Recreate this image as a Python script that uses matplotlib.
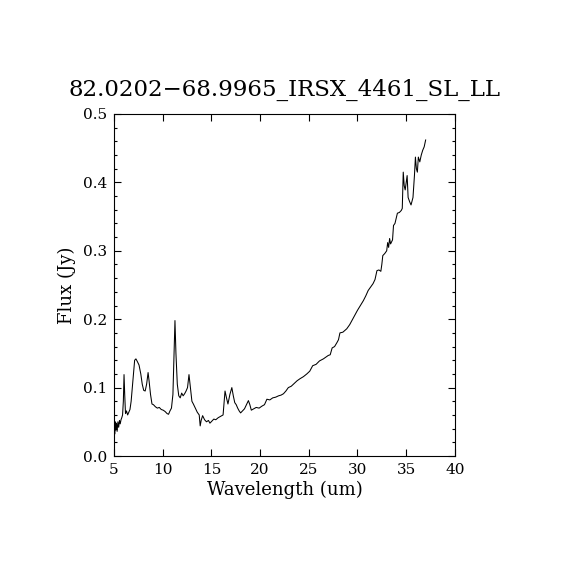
#!/usr/bin/env python3
"""IRS spectrum, flux vs wavelength, IDL-style plot."""

import matplotlib
matplotlib.use('Agg')
import matplotlib.pyplot as plt
from matplotlib.ticker import MultipleLocator

TITLE = '82.0202\u221268.9965_IRSX_4461_SL_LL'

WAVE = [
    5.00, 5.03, 5.07, 5.12, 5.18, 5.25, 5.32, 5.40, 5.48, 5.56,
    5.64, 5.72, 5.80, 5.88, 5.96, 6.03, 6.10, 6.18, 6.28, 6.40,
    6.52, 6.64, 6.76, 6.88, 7.00, 7.12, 7.25, 7.40, 7.57, 7.75,
    7.90, 8.05, 8.20, 8.35, 8.50, 8.60, 8.75, 8.90, 9.05, 9.25,
    9.45, 9.65, 9.85, 10.05, 10.25, 10.45, 10.60, 10.75, 10.90, 11.05,
    11.15, 11.26, 11.36, 11.50, 11.65, 11.80, 11.95, 12.10, 12.25, 12.40,
    12.55, 12.70, 12.85, 13.00, 13.15, 13.35, 13.55, 13.75, 13.85, 13.95,
    14.10, 14.30, 14.50, 14.70, 14.85, 15.05, 15.25, 15.45, 15.70, 15.95,
    16.20, 16.40, 16.55, 16.70, 16.90, 17.10, 17.25, 17.40, 17.55, 17.70,
    17.85, 18.00, 18.20, 18.40, 18.60, 18.80, 18.95, 19.10, 19.35, 19.60,
    19.90, 20.20, 20.45, 20.70, 21.00, 21.30, 21.60, 21.90, 22.15, 22.40,
    22.65, 22.90, 23.20, 23.50, 23.80, 24.10, 24.45, 24.80, 25.10, 25.40,
    25.75, 26.10, 26.50, 27.00, 27.20, 27.40, 27.65, 27.90, 28.05, 28.20,
    28.50, 28.90, 29.20, 29.50, 29.75, 30.00, 30.30, 30.60, 30.85, 31.10,
    31.35, 31.60, 31.80, 32.00, 32.20, 32.40, 32.50, 32.60, 32.80, 33.00,
    33.10, 33.20, 33.30, 33.40, 33.60, 33.70, 33.85, 34.10, 34.30, 34.50,
    34.60, 34.70, 34.80, 34.90, 35.00, 35.10, 35.20, 35.35, 35.50, 35.70,
    35.85, 35.95, 36.05, 36.15, 36.25, 36.40, 36.55, 36.70, 36.85, 37.00,
]

FLUX = [
    0.040, 0.070, 0.032, 0.050, 0.038, 0.048, 0.036, 0.050, 0.042, 0.052,
    0.047, 0.053, 0.056, 0.060, 0.080, 0.119, 0.090, 0.062, 0.066, 0.060,
    0.064, 0.068, 0.080, 0.100, 0.120, 0.140, 0.142, 0.138, 0.133, 0.120,
    0.105, 0.096, 0.095, 0.105, 0.122, 0.110, 0.090, 0.076, 0.075, 0.072,
    0.070, 0.071, 0.068, 0.067, 0.065, 0.062, 0.061, 0.066, 0.070, 0.090,
    0.140, 0.198, 0.150, 0.105, 0.088, 0.085, 0.092, 0.088, 0.091, 0.095,
    0.100, 0.119, 0.100, 0.080, 0.076, 0.070, 0.064, 0.060, 0.044, 0.052,
    0.059, 0.053, 0.050, 0.052, 0.048, 0.051, 0.054, 0.053, 0.056, 0.058,
    0.060, 0.095, 0.085, 0.076, 0.090, 0.100, 0.088, 0.078, 0.075, 0.070,
    0.066, 0.063, 0.066, 0.069, 0.075, 0.081, 0.075, 0.067, 0.069, 0.071,
    0.070, 0.073, 0.075, 0.083, 0.082, 0.085, 0.086, 0.088, 0.089, 0.091,
    0.095, 0.100, 0.102, 0.106, 0.110, 0.113, 0.116, 0.120, 0.124, 0.132,
    0.134, 0.139, 0.142, 0.147, 0.148, 0.158, 0.160, 0.166, 0.170, 0.180,
    0.181, 0.186, 0.192, 0.200, 0.207, 0.213, 0.220, 0.227, 0.234, 0.242,
    0.247, 0.252, 0.258, 0.271, 0.272, 0.270, 0.280, 0.293, 0.296, 0.300,
    0.312, 0.305, 0.318, 0.310, 0.316, 0.337, 0.340, 0.355, 0.356, 0.359,
    0.362, 0.415, 0.395, 0.389, 0.400, 0.410, 0.378, 0.372, 0.367, 0.378,
    0.410, 0.437, 0.420, 0.415, 0.437, 0.430, 0.440, 0.447, 0.452, 0.462,
]


def main():
    plt.rcParams['font.family'] = 'DejaVu Serif'
    fig = plt.figure(figsize=(5.7, 5.7), dpi=100)
    ax = fig.add_axes([0.2, 0.2, 0.598, 0.6])

    ax.plot(WAVE, FLUX, color='black', linewidth=0.75)

    ax.set_xlim(5, 40)
    ax.set_ylim(0.0, 0.5)
    ax.xaxis.set_major_locator(MultipleLocator(5))
    ax.yaxis.set_major_locator(MultipleLocator(0.1))
    ax.yaxis.set_minor_locator(MultipleLocator(0.02))
    ax.yaxis.set_major_formatter(plt.FormatStrFormatter('%.1f'))
    ax.tick_params(which='both', direction='in', top=True, right=True,
                   labelsize=11, width=0.8)
    ax.tick_params(which='major', length=5, pad=5)
    ax.tick_params(which='minor', length=2.5)
    for s in ax.spines.values():
        s.set_linewidth(0.8)

    ax.set_xlabel('Wavelength (um)', fontsize=13, labelpad=3)
    ax.set_ylabel('Flux (Jy)', fontsize=13, labelpad=5)
    ax.set_title(TITLE, fontsize=16.5, pad=13)

    fig.savefig('out.png', dpi=100)


if __name__ == '__main__':
    main()
